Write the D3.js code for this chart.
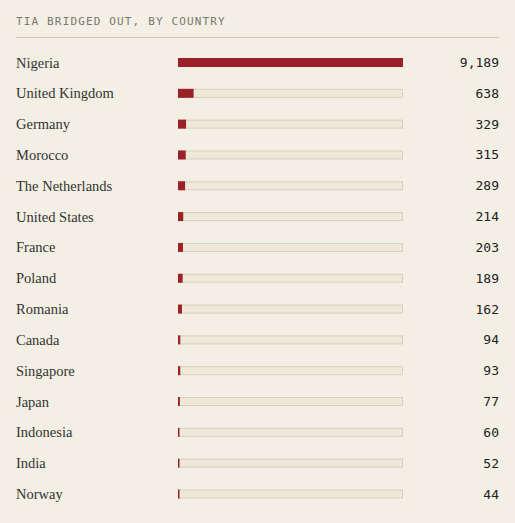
<!DOCTYPE html>
<html>
<head>
<meta charset="utf-8">
<script src="https://cdn.jsdelivr.net/npm/d3@7.9.0/dist/d3.min.js"></script>
<style>
  html, body { margin: 0; padding: 0; background: #f3efe4; }
  svg { display: block; }
</style>
</head>
<body>
<svg width="515" height="523"></svg>
<script>
const title = 'TIA BRIDGED OUT, BY COUNTRY';
const countries = ['Nigeria', 'United Kingdom', 'Germany', 'Morocco', 'The Netherlands',
  'United States', 'France', 'Poland', 'Romania', 'Canada', 'Singapore', 'Japan',
  'Indonesia', 'India', 'Norway'];
const counts = [9189, 638, 329, 315, 289, 214, 203, 189, 162, 94, 93, 77, 60, 52, 44];

const svg = d3.select('svg');

// header
svg.append('text')
  .attr('x', 16)
  .attr('y', 24.5)
  .attr('font-family', 'DejaVu Sans Mono, monospace')
  .attr('font-size', 11)
  .attr('letter-spacing', 1.15)
  .attr('fill', '#7a7770')
  .text(title);

svg.append('line')
  .attr('x1', 16).attr('x2', 499)
  .attr('y1', 37.5).attr('y2', 37.5)
  .attr('stroke', '#cfcab8')
  .attr('stroke-width', 1);

const y = d3.scalePoint().domain(countries).range([62.5, 494]);
const x = d3.scaleLinear().domain([0, d3.max(counts)]).range([178, 403]);

const rows = svg.selectAll('g.row')
  .data(countries.map((c, i) => ({ country: c, count: counts[i] })))
  .join('g')
  .attr('class', 'row')
  .attr('transform', d => `translate(0,${y(d.country)})`);

rows.append('text')
  .attr('x', 16)
  .attr('y', 5)
  .attr('font-family', 'Liberation Serif, serif')
  .attr('font-size', 14.5)
  .attr('fill', '#333')
  .text(d => d.country);

rows.append('rect')
  .attr('x', x(0) + 0.5)
  .attr('y', -4)
  .attr('width', x.range()[1] - x(0) - 1)
  .attr('height', 8)
  .attr('fill', '#efe8da')
  .attr('stroke', '#d6cfbd')
  .attr('stroke-width', 1);

rows.append('rect')
  .attr('x', x(0))
  .attr('y', -4.5)
  .attr('width', d => Math.max(1.5, x(d.count) - x(0)))
  .attr('height', 9)
  .attr('fill', '#9b2128');

rows.append('text')
  .attr('x', 499)
  .attr('y', 4.5)
  .attr('text-anchor', 'end')
  .attr('font-family', 'DejaVu Sans Mono, monospace')
  .attr('font-size', 13)
  .attr('fill', '#222')
  .text(d => d3.format(',')(d.count));
</script>
</body>
</html>
